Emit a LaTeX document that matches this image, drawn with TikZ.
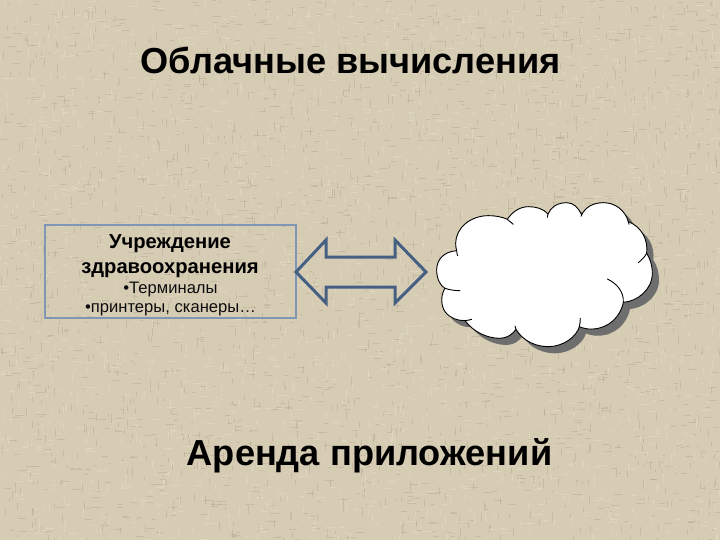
\documentclass[tikz,border=0pt]{standalone}
\usepackage{fontspec}
\setmainfont{Liberation Sans}
\definecolor{bgtan}{HTML}{D6CCB4}
\definecolor{texdark}{HTML}{A99D83}
\definecolor{texlight}{HTML}{EDE6D4}
\definecolor{boxline}{HTML}{7F97B5}
\definecolor{arrowline}{HTML}{456082}
\definecolor{cloudshadow}{HTML}{6E6E6E}
\newcommand{\cloudoutline}{
  (110,182) .. controls (72,185) and (50,208) .. (50,240)
  .. controls (50,268) and (62,288) .. (75,295)
  .. controls (62,315) and (62,345) .. (75,365)
  .. controls (90,385) and (112,392) .. (135,392)
  .. controls (160,425) and (200,445) .. (240,445)
  .. controls (262,445) and (278,432) .. (288,418)
  .. controls (310,455) and (350,470) .. (385,470)
  .. controls (430,470) and (470,440) .. (478,410)
  .. controls (500,420) and (530,420) .. (555,408)
  .. controls (585,395) and (605,365) .. (610,337)
  .. controls (650,335) and (697,300) .. (697,250)
  .. controls (697,225) and (690,205) .. (680,190)
  .. controls (685,150) and (665,110) .. (625,95)
  .. controls (615,60) and (585,38) .. (550,38)
  .. controls (520,38) and (495,52) .. (485,75)
  .. controls (475,52) and (460,38) .. (440,38)
  .. controls (412,38) and (392,52) .. (384,72)
  .. controls (370,55) and (345,50) .. (325,50)
  .. controls (298,50) and (275,68) .. (262,88)
  .. controls (245,80) and (225,77) .. (205,77)
  .. controls (150,77) and (107,115) .. (107,160)
  .. controls (107,168) and (108,175) .. (110,182) -- cycle}
\tikzset{
  title/.style={font=\bfseries\fontsize{36.2}{40}\selectfont,text=black,inner sep=0pt},
  clinic/.style={draw=boxline,line width=1.1pt,minimum width=251pt,minimum height=93pt,inner sep=0pt},
  boxhead/.style={font=\bfseries\fontsize{20.2}{25}\selectfont,align=center,inner sep=0pt},
  boxitem/.style={font=\fontsize{16.6}{18.5}\selectfont,align=center,inner sep=0pt,text=black!95},
  arrowshape/.style={draw=arrowline,line width=3pt,line join=miter,miter limit=3},
  cloudline/.style={draw=black,line width=0.9pt},
  innerarc/.style={draw=black,line width=0.9pt,line cap=round}
}
\pgfmathsetseed{42}
\begin{document}
\begin{tikzpicture}[x=1pt,y=-1pt]
\useasboundingbox (0,0) rectangle (720,540);
\fill[bgtan] (0,0) rectangle (720,540);
% woven texture: many short threads
\foreach \i in {1,...,5000}{
  \pgfmathsetmacro{\px}{720*rnd}
  \pgfmathsetmacro{\py}{540*rnd}
  \pgfmathsetmacro{\len}{2+7*rnd}
  \pgfmathparse{rnd>0.5?1:0}\let\dark\pgfmathresult
  \pgfmathparse{rnd>0.5?1:0}\let\horiz\pgfmathresult
  \ifnum\dark=1 \colorlet{thread}{texdark}\else\colorlet{thread}{texlight}\fi
  \ifnum\horiz=1
    \draw[thread,opacity=0.35,line width=0.9pt] (\px,\py) -- ++(\len,0);
  \else
    \draw[thread,opacity=0.35,line width=0.9pt] (\px,\py) -- ++(0,\len);
  \fi
}
% titles
\node[title] (maintitle) at (350.5,60) {Облачные вычисления};
\node[title] (subtitle) at (369.5,456) {Аренда приложений};
% institution box
\node[clinic] (clinicbox) at (170.5,271.5) {};
\node[boxhead] (clinichead) at (170,256) {Учреждение\\здравоохранения};
\node[boxitem] (clinicitems) at (170.5,299) {•Терминалы\\•принтеры, сканеры…};
% double arrow
\draw[arrowshape] (296,272) -- (326,240) -- (326,257) -- (395,257) -- (395,240)
  -- (426,272) -- (395,303) -- (395,287) -- (326,287) -- (326,303) -- cycle;
% cloud
\begin{scope}[shift={(420,190)},x=0.3333pt,y=-0.3333pt]
  \fill[cloudshadow,shift={(20,20)}] \cloudoutline;
  \fill[white] \cloudoutline;
  \draw[cloudline] \cloudoutline;
  \draw[innerarc] (110,182) .. controls (110,190) and (112,195) .. (113,197);
  \draw[innerarc] (75,295) .. controls (90,300) and (105,302) .. (120,302);
  \draw[innerarc] (135,392) .. controls (142,391) and (150,390) .. (155,388);
  \draw[innerarc] (288,418) .. controls (286,415) and (285,412) .. (285,408);
  \draw[innerarc] (478,410) .. controls (480,402) and (481,394) .. (481,385);
  \draw[innerarc] (610,337) .. controls (612,305) and (590,280) .. (562,267);
  \draw[innerarc] (680,190) .. controls (675,200) and (665,210) .. (655,218);
  \draw[innerarc] (625,95) -- (627,103);
  \draw[innerarc] (485,75) -- (483,79);
  \draw[innerarc] (384,72) -- (382,82);
  \draw[innerarc] (262,88) -- (280,103);
\end{scope}
\end{tikzpicture}
\end{document}
